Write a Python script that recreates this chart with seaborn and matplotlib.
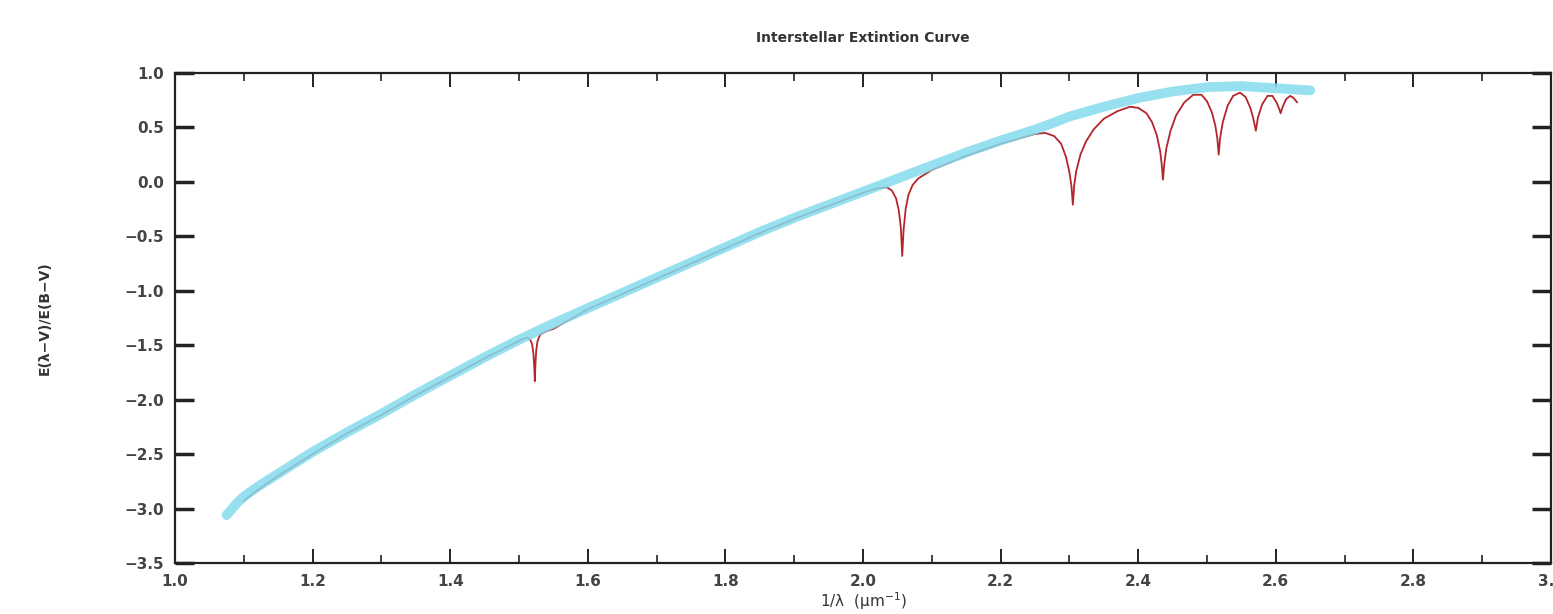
import numpy as np
import pandas as pd
import matplotlib
matplotlib.use("Agg")
import matplotlib.pyplot as plt
import seaborn as sns
from matplotlib.ticker import MultipleLocator

# thick cyan curve (smooth extinction law)
smooth_x = [1.075, 1.09, 1.10, 1.12, 1.15, 1.20, 1.25, 1.30, 1.35, 1.40, 1.45, 1.50,
            1.55, 1.60, 1.65, 1.70, 1.75, 1.80, 1.85, 1.90, 1.95, 2.00, 2.05, 2.10,
            2.15, 2.20, 2.25, 2.28, 2.30, 2.35, 2.40, 2.45, 2.50, 2.55, 2.60, 2.625, 2.65]
smooth_y = [-3.06, -2.95, -2.89, -2.80, -2.68, -2.48, -2.30, -2.13, -1.95, -1.78, -1.61, -1.45,
            -1.30, -1.16, -1.02, -0.88, -0.74, -0.60, -0.46, -0.33, -0.21, -0.09, 0.03, 0.15,
            0.27, 0.38, 0.48, 0.55, 0.60, 0.69, 0.77, 0.83, 0.87, 0.88, 0.86, 0.85, 0.84]

# thin red curve with absorption dips
dip_x = [1.100, 1.120, 1.150, 1.200, 1.250, 1.300, 1.350, 1.400, 1.450, 1.500,
         1.505, 1.512, 1.516, 1.519, 1.521, 1.522, 1.523, 1.524, 1.525, 1.527,
         1.531, 1.540, 1.550, 1.600, 1.650, 1.700, 1.750, 1.800, 1.850, 1.900,
         1.950, 2.000, 2.020, 2.035, 2.042, 2.048, 2.052, 2.055, 2.057, 2.059,
         2.062, 2.066, 2.072, 2.080, 2.100, 2.150, 2.200, 2.250, 2.265, 2.278,
         2.288, 2.295, 2.300, 2.303, 2.305, 2.307, 2.310, 2.316, 2.324, 2.335,
         2.350, 2.370, 2.388, 2.400, 2.412, 2.420, 2.427, 2.432, 2.434, 2.436,
         2.438, 2.441, 2.447, 2.455, 2.467, 2.480, 2.492, 2.500, 2.507, 2.512,
         2.515, 2.517, 2.519, 2.523, 2.530, 2.538, 2.548, 2.556, 2.563, 2.567,
         2.571, 2.574, 2.580, 2.588, 2.595, 2.601, 2.605, 2.607, 2.610, 2.615,
         2.621, 2.626, 2.631]
dip_y = [-2.93, -2.83, -2.70, -2.50, -2.31, -2.14, -1.96, -1.79, -1.62, -1.46,
         -1.445, -1.43, -1.445, -1.49, -1.58, -1.68, -1.83, -1.66, -1.55, -1.46,
         -1.40, -1.37, -1.35, -1.17, -1.03, -0.89, -0.75, -0.61, -0.47, -0.34,
         -0.22, -0.10, -0.06, -0.05, -0.08, -0.15, -0.26, -0.42, -0.68, -0.44,
         -0.25, -0.12, -0.03, 0.03, 0.11, 0.24, 0.35, 0.44, 0.45, 0.42,
         0.35, 0.23, 0.09, -0.04, -0.21, -0.03, 0.10, 0.25, 0.37, 0.48,
         0.58, 0.65, 0.69, 0.68, 0.63, 0.55, 0.43, 0.28, 0.17, 0.02,
         0.17, 0.31, 0.47, 0.61, 0.73, 0.80, 0.80, 0.74, 0.64, 0.52,
         0.40, 0.25, 0.40, 0.55, 0.70, 0.79, 0.82, 0.78, 0.68, 0.59,
         0.47, 0.59, 0.71, 0.79, 0.79, 0.73, 0.67, 0.63, 0.69, 0.76,
         0.79, 0.77, 0.73]

x_ticks = [1.0, 1.2, 1.4, 1.6, 1.8, 2.0, 2.2, 2.4, 2.6, 2.8, 3.0]
y_ticks = [1.0, 0.5, 0.0, -0.5, -1.0, -1.5, -2.0, -2.5, -3.0, -3.5]

smooth_df = pd.DataFrame({"x": smooth_x, "y": smooth_y})
dip_df = pd.DataFrame({"x": dip_x, "y": dip_y})

sns.set_theme(style="ticks")
plt.rcParams["font.family"] = ["DejaVu Sans"]

fig = plt.figure(figsize=(15.53, 6.14), dpi=100)
ax = fig.add_axes([175 / 1553, 1 - 563 / 614, 1376 / 1553, 490 / 614])

sns.lineplot(data=dip_df, x="x", y="y", ax=ax, color="#b3262b", linewidth=1.3,
             estimator=None, sort=False, zorder=2)
sns.lineplot(data=smooth_df, x="x", y="y", ax=ax, color="#84dbee", linewidth=7,
             alpha=0.85, estimator=None, sort=False, zorder=3,
             solid_capstyle="round")

ax.set_xlim(1.0, 3.0)
ax.set_ylim(-3.5, 1.0)
ax.set_xticks(x_ticks)
ax.set_yticks(y_ticks)
ax.xaxis.set_minor_locator(MultipleLocator(0.1))
ax.set_xticklabels([f"{t:.1f}" for t in x_ticks])
ax.set_yticklabels([f"{t:.1f}".replace("-", "\u2212") for t in y_ticks])

for side in ["top", "bottom", "left", "right"]:
    ax.spines[side].set_visible(True)
    ax.spines[side].set_linewidth(1.6)
    ax.spines[side].set_color("#222222")

ax.tick_params(axis="both", which="major", direction="in", top=True, right=True,
               length=10, width=1.4, color="#222222", labelsize=11,
               labelcolor="#444444", pad=8)
ax.tick_params(axis="y", which="major", length=14, width=2.5)
ax.tick_params(axis="x", which="minor", direction="in", top=True, length=6,
               width=1.2, color="#222222")
for lab in ax.get_xticklabels() + ax.get_yticklabels():
    lab.set_fontweight("bold")

ax.set_title("Interstellar Extintion Curve", fontsize=10, fontweight="bold",
             color="#333333", pad=22)
ax.set_xlabel("1/\u03bb  (\u03bcm$^{-1}$)", fontsize=11, color="#333333", labelpad=1)
ax.set_ylabel("E(\u03bb\u2212V)/E(B\u2212V)", fontsize=10, fontweight="bold",
              color="#333333", labelpad=52)

fig.savefig("out.png", dpi=100)
plt.close(fig)
